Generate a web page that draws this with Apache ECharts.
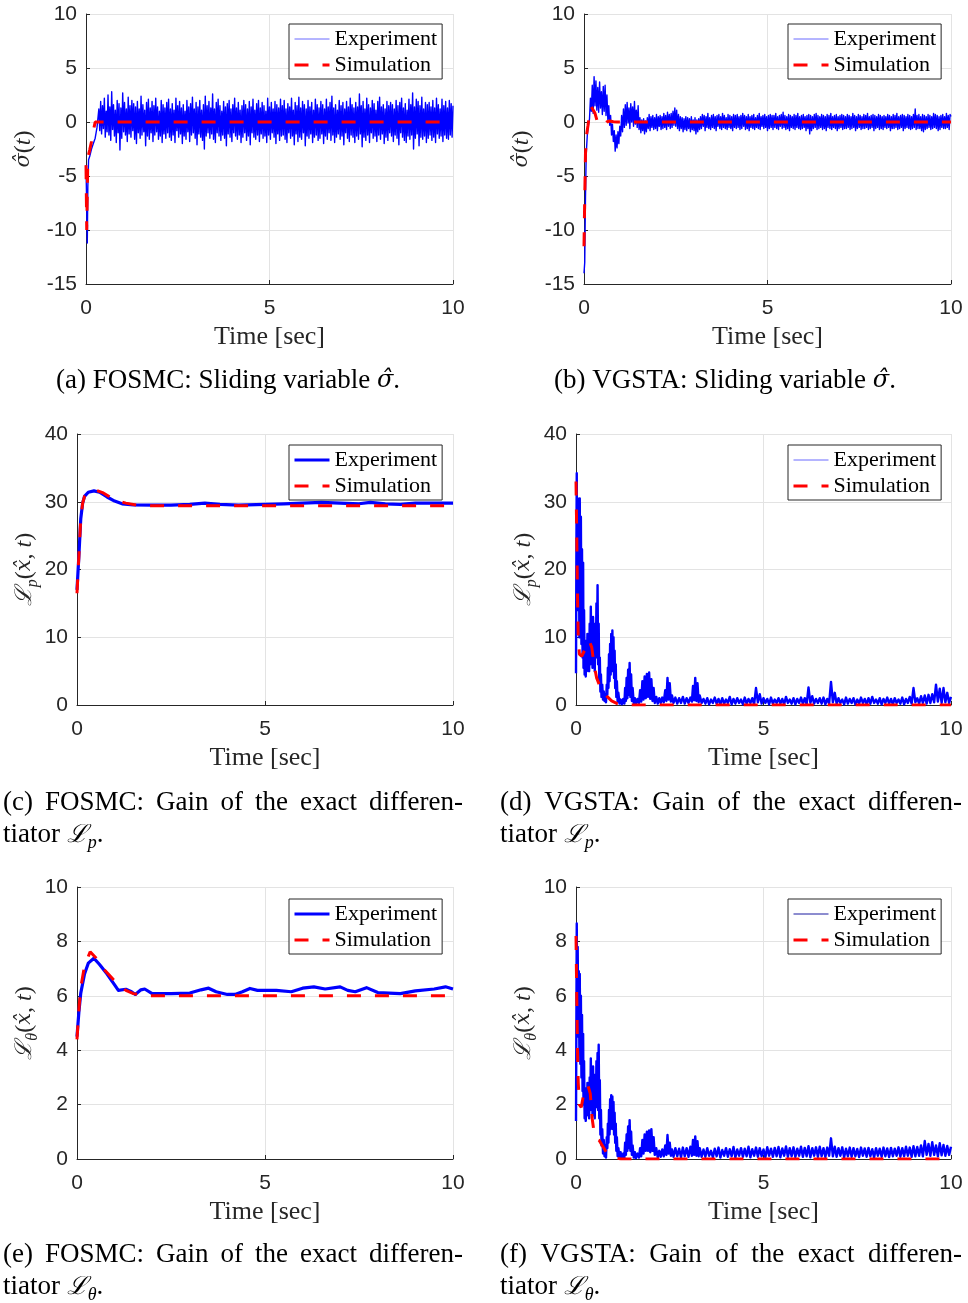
<!DOCTYPE html>
<html><head><meta charset="utf-8">
<script src="https://cdn.jsdelivr.net/npm/echarts@6/dist/echarts.min.js"></script>
<style>html,body{margin:0;padding:0;background:#fff}#c{width:968px;height:1303px}</style>
</head><body><div id="c"></div>
<script>
// ================= DATA =================
const timeTicks = [0, 5, 10];
const sigmaTicks = [-15, -10, -5, 0, 5, 10];
const lpTicks = [0, 10, 20, 30, 40];
const lthTicks = [0, 2, 4, 6, 8, 10];
const legendNames = ['Experiment', 'Simulation'];
const fineStep = 0.025;   // sampling step of the measured noise in (a), (b)
const coarseStep = 0.05;  // sampling step of the measured noise in (d), (f)

// (a) FOSMC sliding variable
const simA = [[0,-4],[0.02,-10],[0.05,-3.3],[0.1,-2.6],[0.15,-1.8],[0.2,-0.8],[0.25,0],[10,0]];
const expAHead = [[0,-4],[0.02,-8],[0.035,-11.2],[0.05,-6],[0.07,-3.5],[0.1,-3.2],[0.15,-2.5],[0.2,-2],[0.25,-1.5],[0.3,-0.5]];
const expANoiseStart = 0.35;
const expANoise = [
 1.2,-0.8,1.9,-1.1,1.5,-0.6,2.2,-1.4,1.0,-0.9,2.5,-1.2,1.4,-1.7,2.8,-0.7,1.6,-1.3,1.1,-1.9,2.0,-1.0,1.7,-2.6,1.3,-1.5,2.7,-0.9,1.8,-1.2,1.2,-1.8,2.3,-1.1,1.5,-1.4,2.0,-0.8,1.7,-1.6,
 1.4,-2.0,1.9,-1.0,1.2,-1.5,2.4,-1.2,1.6,-0.9,1.1,-2.2,1.8,-1.3,2.1,-1.6,1.3,-1.0,1.9,-1.8,1.5,-1.2,2.2,-0.9,1.4,-1.6,1.0,-1.3,2.0,-1.9,1.6,-1.1,1.3,-1.5,1.8,-1.0,2.1,-1.4,1.2,-1.7,
 1.7,-1.2,1.1,-1.9,2.2,-0.8,1.5,-1.4,1.9,-1.1,1.3,-2.0,1.6,-1.3,1.0,-1.6,2.0,-0.9,1.4,-1.8,1.7,-1.2,2.3,-1.0,1.2,-1.5,1.8,-2.1,1.4,-1.1,2.0,-1.4,1.1,-1.7,1.6,-2.5,2.4,-1.3,1.5,-1.0,
 1.9,-1.5,1.3,-1.1,2.6,-1.6,1.2,-1.9,1.8,-1.0,2.1,-1.3,1.5,-1.7,1.0,-1.2,1.9,-1.5,1.4,-2.2,1.7,-1.1,2.0,-1.4,1.2,-1.8,1.6,-1.0,2.2,-1.3,1.3,-1.6,1.8,-1.2,1.1,-1.9,1.5,-1.4,2.0,-1.0,
 1.6,-1.7,1.2,-1.3,1.9,-2.1,1.4,-1.0,2.1,-1.4,1.1,-1.6,1.7,-1.2,2.0,-1.8,1.3,-1.1,1.8,-1.5,1.5,-1.3,1.0,-1.9,2.2,-1.2,1.4,-1.6,1.8,-1.0,1.2,-1.4,1.9,-2.0,1.6,-1.1,1.3,-1.7,2.1,-1.3,
 1.5,-1.2,2.0,-1.6,1.2,-1.9,1.7,-1.0,1.4,-1.5,2.2,-1.3,1.1,-2.1,1.8,-1.1,1.5,-1.8,2.3,-1.4,1.3,-1.6,1.9,-1.0,1.6,-2.2,1.2,-1.3,2.0,-1.5,1.4,-1.1,1.8,-1.9,1.1,-1.4,2.1,-1.2,1.6,-1.7,
 1.3,-1.5,1.9,-1.1,1.6,-2.0,1.2,-1.3,2.1,-1.6,1.4,-1.0,1.8,-1.7,2.4,-1.2,1.3,-1.9,1.6,-1.4,1.1,-1.1,2.0,-1.6,1.5,-1.3,1.8,-2.1,1.2,-1.0,1.9,-1.5,1.4,-1.8,2.2,-1.2,1.6,-1.4,1.3,-1.9,
 1.8,-1.3,1.4,-1.6,2.6,-1.1,1.5,-2.3,1.9,-1.4,1.2,-1.7,2.2,-1.2,1.6,-1.9,1.3,-1.0,2.0,-1.5,1.7,-1.3,1.1,-1.8,1.9,-1.2,2.3,-1.6,1.4,-1.1,1.6,-2.0,1.2,-1.4,1.9,-1.7,1.5,-1.0,1.8,-1.3,
 1.6,-1.8,1.2,-1.2,2.0,-1.5,1.5,-2.1,1.8,-1.0,2.2,-1.4,1.3,-1.7,1.7,-1.9,1.1,-1.3,2.1,-1.6,1.6,-1.2,2.7,-2.5,1.4,-1.5,2.1,-1.1,1.9,-2.2,1.5,-1.4,2.3,-1.6,1.2,-1.3,1.8,-1.9,1.6,-1.5,
 1.8,-1.2,1.4,-1.7,2.0,-1.4,1.3,-1.9,2.2,-1.1,1.6,-1.5,1.2,-1.3,2.1,-1.8,1.5,-1.2,1.9,-1.5,1.3,-1.6,2.0,-1.2,1.7,-1.4,1.5
];

// (b) VGSTA sliding variable
const simB = [[0,-11.5],[0.02,-7],[0.04,-3],[0.07,-1.2],[0.11,-0.3],[0.15,0.8],[0.2,1.4],[0.25,1.3],[0.3,0.8],[0.35,0.2],[0.4,-0.2],[0.48,-0.35],[0.55,-0.25],[0.62,0],[0.7,0.1],[0.8,0.02],[0.9,0],[10,0]];
const expBHead = [[0,-14],[0.02,-13],[0.04,-7],[0.06,-3],[0.09,-1.2],[0.12,-0.3]];
const expBNoiseStart = 0.15;
const expBNoise = [
 0.3,2.2,1.0,3.4,0.8,4.2,1.5,3.8,1.1,3.2,0.9,3.7,1.3,2.8,0.7,3.3,1.0,3.4,0.6,2.5,0.2,1.5,-0.3,0.6,-1.2,-0.2,-1.8,-0.8,-2.7,-1.2,-2.4,-0.9,-2.0,-0.4,-1.3,0.6,-0.9,1.2,-0.5,1.6,
 -0.3,1.8,-0.1,1.3,-0.6,1.7,0.0,1.4,-0.4,1.9,-0.2,1.1,-0.5,1.5,-0.7,0.4,-1.0,0.2,-0.8,0.3,-1.1,0.1,-0.9,0.4,-0.6,0.7,-0.8,0.5,-0.5,0.6,-0.7,0.4,-0.6,0.7,-0.8,0.5,-0.4,0.6,-0.7,0.5,
 -0.6,0.8,-0.5,0.6,-0.7,0.9,-0.4,0.7,-0.6,0.8,-0.5,1.0,-0.3,1.3,-0.4,1.1,-0.6,0.7,-0.8,0.5,-0.6,0.4,-0.9,0.3,-0.7,0.5,-0.8,0.4,-0.6,0.3,-0.9,0.5,-0.7,0.2,-0.8,0.4,-1.1,0.2,-0.9,0.3,
 -0.7,0.5,-0.6,0.7,-0.4,0.6,-0.8,0.5,-0.5,0.8,-0.6,0.4,-0.7,0.6,-0.5,0.7,-0.6,0.5,-0.8,0.6,-0.4,0.7,-0.6,0.5,-0.7,0.8,-0.5,0.6,-0.6,0.4,-0.7,0.7,-0.5,0.6,-0.6,0.5,-0.8,0.7,-0.5,0.6,
 -0.6,0.7,-0.5,0.5,-0.7,0.6,-0.6,0.8,-0.4,0.6,-0.7,0.5,-0.6,0.7,-0.8,0.5,-0.5,0.6,-0.6,0.7,-0.7,0.4,-0.5,0.6,-0.6,0.8,-0.7,0.5,-0.4,0.6,-0.6,0.7,-0.5,0.5,-0.8,0.6,-0.6,0.7,-0.5,0.6,
 -0.7,0.6,-0.5,0.8,-0.6,0.5,-0.7,0.6,-0.4,0.7,-0.6,0.9,-0.5,0.6,-0.7,0.5,-0.6,0.7,-0.8,0.6,-0.5,0.5,-0.6,0.7,-0.7,0.6,-0.5,0.8,-0.6,0.5,-0.7,0.6,-0.6,0.7,-0.5,0.5,-0.8,0.6,-0.6,0.7,
 -1.1,0.6,-0.8,0.5,-0.6,0.7,-0.5,0.8,-0.7,0.6,-0.6,0.5,-0.5,0.7,-0.7,0.6,-0.6,0.5,-0.8,0.7,-0.5,0.6,-0.6,0.8,-0.7,0.5,-0.5,0.6,-0.6,0.7,-0.8,0.5,-0.6,0.6,-0.5,0.7,-0.7,0.6,-0.6,0.5,
 -0.6,0.7,-0.5,0.6,-0.7,0.5,-0.6,0.8,-0.5,0.6,-0.8,0.5,-0.6,0.7,-0.5,0.6,-0.7,0.5,-0.6,0.7,-0.6,0.6,-0.5,0.8,-0.7,0.5,-0.6,0.6,-0.5,0.7,-0.8,0.6,-0.6,0.5,-0.5,0.7,-0.7,0.6,-0.6,0.5,
 -0.7,0.6,-0.5,0.5,-0.6,0.7,-0.5,0.6,-0.8,0.5,-0.6,0.7,-0.6,0.6,-0.5,0.8,-0.7,0.5,-0.6,0.6,-0.5,0.7,-0.8,0.6,-0.6,0.5,-0.5,0.7,-0.6,0.6,-0.7,0.5,-0.6,0.7,-0.5,1.2,-0.7,0.6,-0.6,0.7,
 -0.6,0.5,-0.8,0.7,-0.9,0.6,-0.7,0.5,-0.6,0.7,-0.5,0.6,-0.7,0.5,-0.6,0.8,-0.5,0.7,-0.6,0.6,-0.8,0.5,-0.7,0.6,-0.5,0.7,-0.6,0.5,-0.6,0.8,-0.5,0.6,-0.7,0.7,0.5
];

// (c) FOSMC gain L_p
const expC = [[0,17],[0.05,22],[0.1,27.5],[0.15,29.8],[0.2,30.8],[0.3,31.4],[0.45,31.6],[0.6,31.4],[0.8,30.7],[1.0,30.1],[1.2,29.7],[1.5,29.55],[2,29.5],[2.5,29.5],[3,29.6],[3.4,29.8],[3.8,29.6],[4.3,29.5],[5,29.6],[5.5,29.7],[6,29.8],[6.5,29.9],[7,29.8],[7.5,29.7],[7.8,29.9],[8.2,29.7],[8.6,29.6],[9,29.8],[9.5,29.8],[10,29.8]];
const simC = [[0,16.5],[0.05,22],[0.1,27.5],[0.15,29.8],[0.2,30.8],[0.3,31.4],[0.5,31.7],[0.7,31.3],[0.9,30.6],[1.1,30.1],[1.3,29.8],[1.6,29.5],[2,29.4],[10,29.4]];

// (d) VGSTA gain L_p
const simD = [[0,33],[0.02,25],[0.04,16],[0.06,10],[0.09,7.5],[0.15,7.2],[0.25,8.3],[0.35,9.5],[0.42,8.5],[0.48,6],[0.55,4],[0.65,2.6],[0.75,1.8],[0.82,1.3],[0.95,0.6],[1.1,0.2],[1.3,0],[10,0]];
const expDHead = [[0,4.7],[0.01,22],[0.02,34.2],[0.03,18],[0.045,30.5],[0.06,14],[0.075,28],[0.09,10],[0.1,30.5],[0.115,12],[0.13,27.8],[0.145,9],[0.16,23],[0.175,7],[0.19,21],[0.2,5.5],[0.215,14],[0.23,4.5],[0.245,9.5],[0.26,4.2],[0.275,8],[0.29,5],[0.305,10.5],[0.32,5.5],[0.335,9],[0.35,5],[0.365,12],[0.38,6],[0.395,14.5],[0.41,7],[0.425,11],[0.44,5.5],[0.455,13],[0.47,6],[0.485,10],[0.5,5],[0.515,12],[0.53,7],[0.545,15],[0.56,8],[0.575,17.7],[0.59,6],[0.605,12],[0.62,3.5],[0.635,7],[0.65,2],[0.665,4.5],[0.68,1.2],[0.7,3],[0.72,0.8],[0.74,2],[0.76,0.6],[0.78,1.5],[0.8,0.4],[0.82,3],[0.835,1.5],[0.85,5.5],[0.865,2.5],[0.88,7.5],[0.895,3.5],[0.91,9],[0.925,4.5],[0.94,10.5],[0.955,5],[0.97,11],[0.985,5.5],[1.0,10],[1.015,4],[1.03,8],[1.045,2.5],[1.06,6],[1.075,1.2],[1.09,3.5],[1.11,0.5],[1.13,1.8],[1.16,0.2],[1.19,0.8],[1.22,0.1],[1.26,0.9],[1.29,0.2],[1.31,2.5],[1.33,0.6],[1.35,4],[1.37,1],[1.39,5.2],[1.41,1.5],[1.43,6.2],[1.45,1.2],[1.47,4.5],[1.49,0.6],[1.51,2.5],[1.54,0.2],[1.57,1],[1.6,0.1],[1.64,0.9],[1.68,0.3],[1.71,2.2],[1.74,0.5],[1.77,3.5],[1.8,0.8],[1.83,4.2],[1.86,1],[1.89,4.6],[1.92,1.2],[1.95,4.8],[1.98,0.9],[2.01,3.8],[2.04,0.6],[2.07,2.5],[2.1,0.3],[2.14,1.2],[2.18,0.2],[2.22,1],[2.26,0.3],[2.3,1.1],[2.34,0.4],[2.38,2.2],[2.41,0.6],[2.44,4],[2.47,0.8],[2.5,3.2],[2.53,0.5],[2.56,1.4],[2.6,0.3],[2.65,1.1],[2.7,0.2],[2.75,1.0],[2.8,0.3],[2.85,1.2],[2.9,0.2],[2.95,1.0],[3.0,0.3],[3.05,1.1],[3.09,0.5],[3.12,2.8],[3.15,0.7],[3.18,4],[3.21,0.6],[3.24,3.2],[3.27,0.4],[3.3,1.4],[3.35,0.3]];
const expDNoiseStart = 3.4;
const expDNoise = [
 0.9,0.2,1.0,0.1,0.8,0.3,1.1,0.2,0.9,0.1,1.0,0.2,0.8,0.3,1.2,0.1,0.9,0.2,1.0,0.3,
 0.8,0.1,1.1,0.2,0.9,0.3,1.0,0.1,2.5,0.4,1.6,0.2,1.0,0.3,0.9,0.1,1.1,0.2,0.8,0.3,
 1.0,0.2,0.9,0.1,1.2,0.3,0.8,0.2,1.0,0.1,0.9,0.3,1.1,0.2,1.0,0.1,2.6,0.3,1.3,0.2,
 0.9,0.3,1.0,0.2,1.1,0.1,0.9,0.2,3.4,0.4,1.8,0.2,1.0,0.3,0.8,0.1,1.1,0.2,0.9,0.3,
 1.0,0.1,0.8,0.2,1.1,0.3,0.9,0.1,1.0,0.2,1.2,0.3,0.8,0.2,1.0,0.1,0.9,0.3,1.1,0.2,
 0.9,0.1,1.0,0.3,0.8,0.2,1.1,0.1,0.9,0.3,1.2,0.2,2.5,0.4,1.0,0.2,1.3,0.3,1.4,0.2,
 1.5,0.3,1.6,0.4,3.0,0.5,2.4,0.3,2.5,0.4,1.8,0.3,1.2
];

// (e) FOSMC gain L_theta
const expE = [[0,4.5],[0.05,5.4],[0.1,6.1],[0.2,6.8],[0.3,7.2],[0.45,7.38],[0.6,7.15],[0.8,6.8],[1.0,6.4],[1.1,6.2],[1.3,6.24],[1.45,6.15],[1.55,6.05],[1.7,6.22],[1.8,6.25],[2.0,6.08],[2.5,6.08],[3.0,6.1],[3.3,6.22],[3.5,6.28],[3.7,6.15],[4.0,6.05],[4.2,6.05],[4.4,6.15],[4.6,6.27],[4.8,6.2],[5.3,6.2],[5.7,6.15],[6.0,6.28],[6.3,6.33],[6.6,6.25],[7.0,6.33],[7.2,6.2],[7.4,6.15],[7.7,6.3],[8.0,6.12],[8.6,6.08],[9.0,6.18],[9.5,6.25],[9.8,6.33],[10,6.25]];
const simE = [[0,4.4],[0.05,5.5],[0.1,6.3],[0.2,7.1],[0.35,7.62],[0.5,7.4],[0.7,7.0],[0.9,6.7],[1.1,6.4],[1.3,6.2],[1.5,6.08],[1.8,6.0],[10,6.0]];

// (f) VGSTA gain L_theta
const simF = [[0,8.2],[0.02,6],[0.04,4],[0.06,2.8],[0.09,2.0],[0.14,1.9],[0.22,2.5],[0.32,2.7],[0.38,2.4],[0.43,1.5],[0.48,1.0],[0.53,0.75],[0.62,0.68],[0.72,0.45],[0.85,0.15],[1.0,0.05],[1.2,0],[10,0]];
const expFHead = [[0,1.4],[0.01,5],[0.02,8.66],[0.03,5.5],[0.045,7.8],[0.06,4.5],[0.075,6.9],[0.09,4],[0.1,6.8],[0.115,3.5],[0.13,6],[0.145,3],[0.16,5.3],[0.175,2.5],[0.19,4.6],[0.2,2],[0.215,3.6],[0.23,1.5],[0.245,2.6],[0.26,1.4],[0.275,2.3],[0.29,1.6],[0.305,2.8],[0.32,1.7],[0.335,2.5],[0.35,1.5],[0.365,3],[0.38,1.8],[0.395,3.7],[0.41,2],[0.425,3.2],[0.44,1.6],[0.455,3.4],[0.47,1.8],[0.485,2.9],[0.5,1.5],[0.515,3.1],[0.53,1.9],[0.545,3.6],[0.56,2],[0.575,3.9],[0.59,1.8],[0.605,4.2],[0.62,1.5],[0.635,2.9],[0.65,0.9],[0.665,1.8],[0.68,0.5],[0.7,1.1],[0.72,0.2],[0.74,0.7],[0.76,0.1],[0.78,0.5],[0.8,0.05],[0.82,0.8],[0.835,0.4],[0.85,1.3],[0.865,0.6],[0.88,1.8],[0.895,0.9],[0.91,2.2],[0.925,1.1],[0.94,2.35],[0.955,1.2],[0.97,2.3],[0.985,1.1],[1.0,2.1],[1.015,0.9],[1.03,1.7],[1.045,0.6],[1.06,1.3],[1.075,0.3],[1.09,0.8],[1.11,0.1],[1.13,0.4],[1.16,0.05],[1.19,0.25],[1.22,0.03],[1.26,0.2],[1.29,0.05],[1.31,0.6],[1.33,0.15],[1.35,0.9],[1.37,0.3],[1.39,1.2],[1.41,0.4],[1.43,1.43],[1.45,0.3],[1.47,1.0],[1.49,0.15],[1.51,0.5],[1.54,0.05],[1.57,0.25],[1.6,0.03],[1.64,0.2],[1.68,0.05],[1.71,0.4],[1.74,0.1],[1.77,0.7],[1.8,0.2],[1.83,0.9],[1.86,0.3],[1.89,1.0],[1.92,0.3],[1.95,1.05],[1.98,0.25],[2.01,1.1],[2.04,0.3],[2.07,0.8],[2.1,0.15],[2.14,0.4],[2.18,0.05],[2.22,0.3],[2.26,0.08],[2.3,0.35],[2.34,0.1],[2.38,0.5],[2.41,0.15],[2.44,0.88],[2.47,0.2],[2.5,0.6],[2.53,0.12],[2.56,0.35],[2.6,0.08],[2.65,0.4],[2.7,0.1],[2.75,0.38],[2.8,0.06],[2.85,0.42],[2.9,0.1],[2.95,0.4],[3.0,0.08],[3.05,0.45],[3.09,0.12],[3.12,0.7],[3.15,0.15],[3.18,0.83],[3.21,0.12],[3.24,0.65],[3.27,0.1],[3.3,0.4],[3.35,0.08]];
const expFNoiseStart = 3.4;
const expFNoise = [
 0.35,0.08,0.4,0.12,0.3,0.06,0.38,0.1,0.42,0.05,0.33,0.12,0.4,0.08,0.36,0.1,0.44,0.06,0.35,0.12,
 0.4,0.08,0.38,0.1,0.45,0.06,0.36,0.12,0.42,0.08,0.4,0.1,0.35,0.06,0.43,0.12,0.38,0.08,0.41,0.1,
 0.44,0.06,0.39,0.12,0.46,0.08,0.4,0.1,0.43,0.07,0.38,0.12,0.45,0.08,0.41,0.1,0.47,0.06,0.4,0.12,
 0.43,0.08,0.45,0.1,0.4,0.07,0.42,0.12,0.76,0.1,0.45,0.08,0.4,0.12,0.43,0.06,0.38,0.1,0.42,0.08,
 0.4,0.1,0.37,0.07,0.42,0.12,0.39,0.08,0.41,0.1,0.36,0.06,0.4,0.12,0.38,0.08,0.42,0.1,0.39,0.07,
 0.41,0.1,0.38,0.12,0.43,0.08,0.4,0.1,0.45,0.12,0.42,0.08,0.47,0.1,0.44,0.12,0.5,0.1,0.66,0.15,
 0.55,0.12,0.62,0.15,0.5,0.1,0.58,0.14,0.52,0.12,0.48,0.15,0.45
];

// ================= BUILD =================
function withNoise(head, start, step, values) {
  return head.concat(values.map((v, i) => [+(start + i * step).toFixed(4), v]));
}
const SERIF = '"Liberation Serif", "Times New Roman", serif';
const MATH = '"DejaVu Serif", "Liberation Serif", serif';
const SANS = '"Liberation Sans", Arial, Helvetica, sans-serif';
const AX = '#262626';
const GRIDC = '#e3e3e3';
const BLUE = '#0000ff', RED = '#ff0000';
const DASH = [14, 14];

const nameRich = {
  n: {fontFamily: SERIF, fontSize: 24, color: AX, lineHeight: 32, verticalAlign: 'middle'},
  i: {fontFamily: SERIF, fontStyle: 'italic', fontSize: 24, color: AX, lineHeight: 32, verticalAlign: 'middle'},
  h: {fontFamily: MATH, fontStyle: 'italic', fontSize: 21, color: AX, lineHeight: 32, verticalAlign: 'middle'},
  L: {fontFamily: MATH, fontStyle: 'italic', fontSize: 23, color: AX, lineHeight: 32, verticalAlign: 'middle'},
  s: {fontFamily: SERIF, fontStyle: 'italic', fontSize: 16, color: AX, lineHeight: 18, verticalAlign: 'bottom'}
};
const nameSigma = '{h|σ\u0302}{n|(}{i|t}{n|)}';
const nameLp = '{L|ℒ}{s|p}{n|(}{h|x\u0302}{n|, }{i|t}{n|)}';
const nameLth = '{L|ℒ}{s|θ}{n|(}{h|x\u0302}{n|, }{i|t}{n|)}';

const panels = [
  {tag:'a', grid:{left:86, top:14, width:367, height:270}, ticks:sigmaTicks, yName:nameSigma, yGap:46,
   exp:withNoise(expAHead, expANoiseStart, fineStep, expANoise), sim:simA, expW:1.4, legW:1, leg:{left:289, top:24}},
  {tag:'b', grid:{left:584, top:14, width:367, height:270}, ticks:sigmaTicks, yName:nameSigma, yGap:46,
   exp:withNoise(expBHead, expBNoiseStart, fineStep, expBNoise), sim:simB, expW:1.4, legW:1, leg:{left:788, top:24}},
  {tag:'c', grid:{left:77, top:434, width:376, height:271}, ticks:lpTicks, yName:nameLp, yGap:35,
   exp:expC, sim:simC, expW:3.2, legW:3, leg:{left:289, top:445}},
  {tag:'d', grid:{left:576, top:434, width:375, height:271}, ticks:lpTicks, yName:nameLp, yGap:35,
   exp:withNoise(expDHead, expDNoiseStart, coarseStep, expDNoise), sim:simD, expW:2.4, legW:1, leg:{left:788, top:445}},
  {tag:'e', grid:{left:77, top:887, width:376, height:272}, ticks:lthTicks, yName:nameLth, yGap:35,
   exp:expE, sim:simE, expW:3.2, legW:3, leg:{left:289, top:899}},
  {tag:'f', grid:{left:576, top:887, width:375, height:272}, ticks:lthTicks, yName:nameLth, yGap:35,
   exp:withNoise(expFHead, expFNoiseStart, coarseStep, expFNoise), sim:simF, expW:2.4, legW:1, leg:{left:788, top:899}}
];

const grid = [], xAxis = [], yAxis = [], series = [], legend = [];
panels.forEach((p, k) => {
  grid.push(Object.assign({containLabel: false}, p.grid));
  xAxis.push({
    gridIndex: k, type: 'value',
    min: timeTicks[0], max: timeTicks[timeTicks.length - 1], interval: timeTicks[1] - timeTicks[0],
    name: 'Time [sec]', nameLocation: 'middle', nameGap: 40,
    nameTextStyle: {fontFamily: SERIF, fontSize: 26, color: AX},
    axisLine: {onZero: false, lineStyle: {color: AX, width: 1}},
    axisTick: {inside: true, length: 4, lineStyle: {color: AX}},
    axisLabel: {margin: 14, fontFamily: SANS, fontSize: 21, color: AX},
    splitLine: {show: true, lineStyle: {color: GRIDC, width: 1}}
  });
  yAxis.push({
    gridIndex: k, type: 'value',
    min: p.ticks[0], max: p.ticks[p.ticks.length - 1], interval: p.ticks[1] - p.ticks[0],
    name: p.yName, nameLocation: 'middle', nameGap: p.yGap,
    nameTextStyle: {rich: nameRich},
    axisLine: {onZero: false, lineStyle: {color: AX, width: 1}},
    axisTick: {inside: true, length: 4, lineStyle: {color: AX}},
    axisLabel: {margin: 9, fontFamily: SANS, fontSize: 21, color: AX},
    splitLine: {show: true, lineStyle: {color: GRIDC, width: 1}}
  });
  const en = legendNames[0] + ' ' + p.tag, sn = legendNames[1] + ' ' + p.tag;
  series.push({
    name: en, type: 'line', xAxisIndex: k, yAxisIndex: k, data: p.exp,
    symbol: 'none', showSymbol: false, animation: false, z: 2,
    lineStyle: {color: BLUE, width: p.expW, join: 'round'}, itemStyle: {color: BLUE}
  });
  series.push({
    name: sn, type: 'line', xAxisIndex: k, yAxisIndex: k, data: p.sim,
    symbol: 'none', showSymbol: false, animation: false, z: 3,
    lineStyle: {color: RED, width: 3, type: DASH, cap: 'butt'}, itemStyle: {color: RED}
  });
  legend.push({
    left: p.leg.left, top: p.leg.top, orient: 'vertical', selectedMode: false,
    padding: [4, 5, 3, 4], itemGap: 4, itemWidth: 35, itemHeight: 14,
    borderColor: AX, borderWidth: 1, backgroundColor: '#fff',
    textStyle: {fontFamily: SERIF, fontSize: 22, color: '#000', lineHeight: 22},
    formatter: n => n.split(' ')[0],
    data: [
      {name: en, itemStyle: {opacity: 0}, lineStyle: {color: p.legW > 1 ? BLUE : (p.tag === 'f' ? '#1a1aa0' : '#6a6aff'), width: p.legW, type: 'solid'}},
      {name: sn, itemStyle: {opacity: 0}, lineStyle: {color: RED, width: 3, type: DASH}}
    ]
  });
});

// ---- captions ----
const CAP_FS = 27;
const capFont = CAP_FS + 'px ' + SERIF;
const capRich = {
  m: {fontFamily: MATH, fontStyle: 'italic', fontSize: 24, fill: '#000'},
  L: {fontFamily: MATH, fontStyle: 'italic', fontSize: 25, fill: '#000', lineHeight: 34, verticalAlign: 'middle'},
  s: {fontFamily: SERIF, fontStyle: 'italic', fontSize: 18, fill: '#000', lineHeight: 20, verticalAlign: 'bottom'},
  t: {fontFamily: SERIF, fontSize: CAP_FS, fill: '#000', lineHeight: 34, verticalAlign: 'middle'}
};
const graphics = [];
function capText(x, y, text, align) {
  graphics.push({type: 'text', x: x, y: y, silent: true,
    style: {text: text, fontFamily: SERIF, fontSize: CAP_FS, fill: '#000', align: align || 'left', verticalAlign: 'middle', rich: capRich}});
}
const measureCtx = document.createElement('canvas').getContext('2d');
function justified(words, x0, x1, y) {
  measureCtx.font = capFont;
  const w = words.map(s => measureCtx.measureText(s).width);
  const total = w.reduce((a, b) => a + b, 0);
  const gap = (x1 - x0 - total) / (words.length - 1);
  let x = x0;
  words.forEach((s, i) => { capText(x, y, s, 'left'); x += w[i] + gap; });
}
capText(228, 381, '(a) FOSMC: Sliding variable {m|σ\u0302}.', 'center');
capText(725, 381, '(b) VGSTA: Sliding variable {m|σ\u0302}.', 'center');
justified(['(c)', 'FOSMC:', 'Gain', 'of', 'the', 'exact', 'differen-'], 3, 463, 803);
capText(3, 835, '{t|tiator }{L|ℒ}{s|p}{t|.}', 'left');
justified(['(d)', 'VGSTA:', 'Gain', 'of', 'the', 'exact', 'differen-'], 500, 962, 803);
capText(500, 835, '{t|tiator }{L|ℒ}{s|p}{t|.}', 'left');
justified(['(e)', 'FOSMC:', 'Gain', 'of', 'the', 'exact', 'differen-'], 3, 463, 1255);
capText(3, 1287, '{t|tiator }{L|ℒ}{s|θ}{t|.}', 'left');
justified(['(f)', 'VGSTA:', 'Gain', 'of', 'the', 'exact', 'differen-'], 500, 962, 1255);
capText(500, 1287, '{t|tiator }{L|ℒ}{s|θ}{t|.}', 'left');

const chart = echarts.init(document.getElementById('c'), null, {renderer: 'canvas', devicePixelRatio: 1});
chart.setOption({
  backgroundColor: '#fff',
  animation: false,
  grid: grid, xAxis: xAxis, yAxis: yAxis, series: series, legend: legend,
  graphic: graphics
});
</script>
</body></html>
